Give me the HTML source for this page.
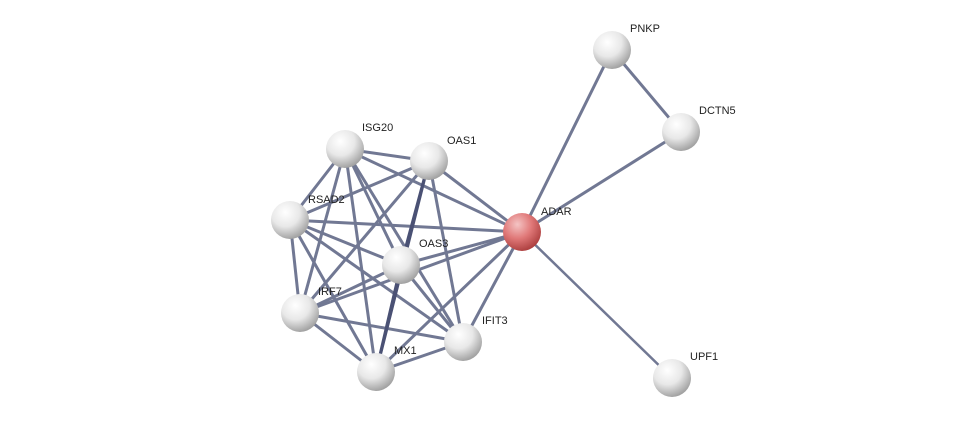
<!DOCTYPE html>
<html><head><meta charset="utf-8"><style>
html,body{margin:0;padding:0;background:#fff;}
svg text{font-family:"Liberation Sans",sans-serif;font-size:11px;fill:#222;}
</style></head><body>
<svg width="975" height="423" viewBox="0 0 975 423" xmlns="http://www.w3.org/2000/svg">
<defs>
<radialGradient id="g" cx="0.38" cy="0.3" r="0.75">
<stop offset="0" stop-color="#ffffff"/><stop offset="0.5" stop-color="#e8e8e8"/><stop offset="1" stop-color="#9a9a9a"/>
</radialGradient>
<radialGradient id="r" cx="0.38" cy="0.3" r="0.75">
<stop offset="0" stop-color="#f4c4c4"/><stop offset="0.5" stop-color="#e07878"/><stop offset="1" stop-color="#a83a3a"/>
</radialGradient>
</defs>
<g stroke="#6a718e" stroke-width="3" stroke-linecap="round" opacity="0.95">
<line x1="522" y1="232" x2="612" y2="50"/>
<line x1="522" y1="232" x2="681" y2="132"/>
<line x1="612" y1="50" x2="681" y2="132"/>
<line x1="522" y1="232" x2="672" y2="378" stroke-width="2.5"/>
<line x1="522" y1="232" x2="345" y2="149"/>
<line x1="522" y1="232" x2="429" y2="161"/>
<line x1="522" y1="232" x2="290" y2="220"/>
<line x1="522" y1="232" x2="401" y2="265"/>
<line x1="522" y1="232" x2="300" y2="313"/>
<line x1="522" y1="232" x2="463" y2="342"/>
<line x1="522" y1="232" x2="376" y2="372"/>
<line x1="345" y1="149" x2="429" y2="161"/>
<line x1="345" y1="149" x2="290" y2="220"/>
<line x1="345" y1="149" x2="401" y2="265"/>
<line x1="345" y1="149" x2="300" y2="313"/>
<line x1="345" y1="149" x2="463" y2="342"/>
<line x1="345" y1="149" x2="376" y2="372"/>
<line x1="429" y1="161" x2="290" y2="220"/>
<line x1="429" y1="161" x2="300" y2="313"/>
<line x1="429" y1="161" x2="463" y2="342"/>
<line x1="290" y1="220" x2="401" y2="265"/>
<line x1="290" y1="220" x2="300" y2="313"/>
<line x1="290" y1="220" x2="463" y2="342"/>
<line x1="290" y1="220" x2="376" y2="372"/>
<line x1="401" y1="265" x2="300" y2="313"/>
<line x1="401" y1="265" x2="463" y2="342"/>
<line x1="300" y1="313" x2="463" y2="342"/>
<line x1="300" y1="313" x2="376" y2="372"/>
<line x1="463" y1="342" x2="376" y2="372"/>
</g>
<g stroke="#4a5174" stroke-width="3" stroke-linecap="round">
<line x1="429" y1="161" x2="401" y2="265"/>
<line x1="429" y1="161" x2="376" y2="372"/>
<line x1="401" y1="265" x2="376" y2="372"/>
</g>
<g>
<circle cx="612" cy="50" r="19" fill="url(#g)"/>
<circle cx="681" cy="132" r="19" fill="url(#g)"/>
<circle cx="345" cy="149" r="19" fill="url(#g)"/>
<circle cx="429" cy="161" r="19" fill="url(#g)"/>
<circle cx="290" cy="220" r="19" fill="url(#g)"/>
<circle cx="522" cy="232" r="19" fill="url(#r)"/>
<circle cx="401" cy="265" r="19" fill="url(#g)"/>
<circle cx="300" cy="313" r="19" fill="url(#g)"/>
<circle cx="463" cy="342" r="19" fill="url(#g)"/>
<circle cx="376" cy="372" r="19" fill="url(#g)"/>
<circle cx="672" cy="378" r="19" fill="url(#g)"/>
</g>
<text x="630" y="32">PNKP</text>
<text x="699" y="114">DCTN5</text>
<text x="362" y="131">ISG20</text>
<text x="447" y="144">OAS1</text>
<text x="308" y="203">RSAD2</text>
<text x="541" y="215">ADAR</text>
<text x="419" y="247">OAS3</text>
<text x="318" y="295">IRF7</text>
<text x="482" y="324">IFIT3</text>
<text x="394" y="354">MX1</text>
<text x="690" y="360">UPF1</text>
</svg>
</body></html>
